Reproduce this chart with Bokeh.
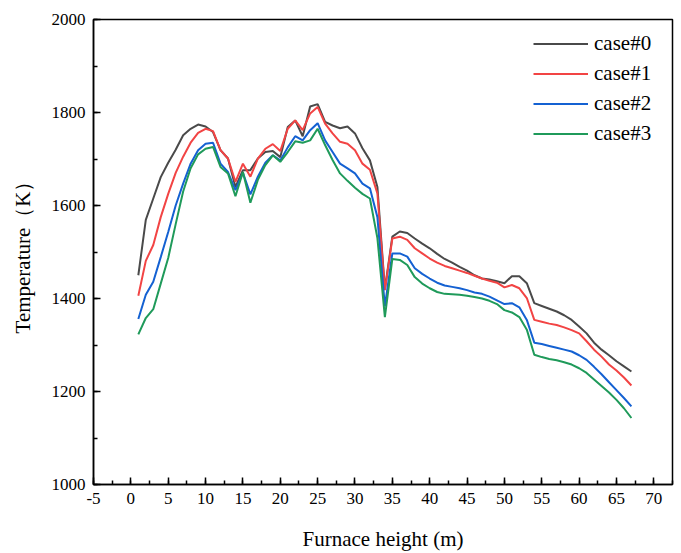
from bokeh.plotting import figure
from bokeh.models import Range1d, SingleIntervalTicker, Legend, LegendItem, PrintfTickFormatter
from bokeh.embed import file_html
from bokeh.resources import INLINE

height_m = list(range(1, 68))

case0 = [1450, 1569, 1615, 1661, 1692, 1720, 1751, 1765, 1774, 1770,
         1758, 1719, 1701, 1640, 1676, 1676, 1701, 1715, 1717, 1704,
         1769, 1783, 1749, 1813, 1818, 1780, 1772, 1766, 1770, 1755,
         1723, 1697, 1640, 1420, 1533, 1544, 1541, 1529, 1518, 1508,
         1496, 1485, 1477, 1468, 1460, 1450, 1443, 1441, 1437, 1433,
         1448, 1448, 1433, 1390, 1384, 1378, 1372, 1364, 1354, 1340,
         1325, 1305, 1290, 1278, 1265, 1254, 1243]
case1 = [1406, 1481, 1515, 1575, 1625, 1670, 1705, 1735, 1756, 1765,
         1760, 1719, 1701, 1651, 1690, 1662, 1701, 1722, 1732, 1717,
         1765, 1783, 1762, 1798, 1812, 1776, 1755, 1737, 1733, 1719,
         1690, 1677, 1626, 1418, 1529, 1533, 1526, 1508, 1497, 1486,
         1477, 1470, 1465, 1460, 1455, 1449, 1443, 1438, 1434, 1424,
         1429, 1422, 1401, 1354, 1350, 1346, 1343, 1338, 1332, 1325,
         1308, 1290, 1275, 1258, 1245, 1230, 1213]
case2 = [1356, 1408, 1436, 1489, 1543, 1600, 1647, 1690, 1719, 1733,
         1735, 1690, 1672, 1633, 1670, 1624, 1662, 1692, 1708, 1697,
         1725, 1749, 1740, 1762, 1777, 1740, 1715, 1690, 1680, 1669,
         1647, 1637, 1575, 1383, 1497, 1497, 1490, 1465, 1453, 1443,
         1434, 1428, 1425, 1422, 1418, 1413, 1410, 1404, 1396, 1388,
         1390, 1381, 1354, 1305, 1302, 1298, 1294, 1290, 1286, 1278,
         1268, 1253, 1237, 1220, 1203, 1186, 1168]
case3 = [1323, 1358, 1377, 1432, 1487, 1560, 1630, 1680, 1710, 1722,
         1726, 1683, 1669, 1620, 1672, 1606, 1655, 1687, 1708, 1694,
         1715, 1738, 1735, 1740, 1765, 1730, 1698, 1669, 1653, 1638,
         1625, 1615, 1530, 1360, 1485, 1483, 1472, 1446, 1432, 1422,
         1414, 1410, 1409, 1408, 1406, 1403, 1400, 1395, 1388, 1375,
         1370, 1360, 1333, 1279, 1274, 1270, 1267, 1263, 1258, 1250,
         1240, 1226, 1212, 1198, 1182, 1164, 1143]

series_names = ["case#0", "case#1", "case#2", "case#3"]
series_values = [case0, case1, case2, case3]
colors = ["#4a4a4a", "#f24444", "#1461d2", "#1f9a5a"]

FONT = "'Liberation Serif', 'Times New Roman', serif"

p = figure(width=681, height=553, output_backend="svg", toolbar_location=None,
           x_range=Range1d(-5, 72.5), y_range=Range1d(1000, 2000),
           min_border_left=93, min_border_right=9, min_border_top=19,
           min_border_bottom=68)
p.background_fill_color = "white"
p.border_fill_color = "white"
p.outline_line_color = "black"
p.outline_line_width = 1.5
p.xgrid.visible = False
p.ygrid.visible = False

items = []
for name, vals, col in zip(series_names, series_values, colors):
    r = p.line(height_m, vals, line_color=col, line_width=2)
    items.append(LegendItem(label=name, renderers=[r]))

xa = p.xaxis[0]
xa.ticker = SingleIntervalTicker(interval=5, num_minor_ticks=2)
ya = p.yaxis[0]
ya.ticker = SingleIntervalTicker(interval=200, num_minor_ticks=2)

for ax in (xa, ya):
    ax.formatter = PrintfTickFormatter(format="%d")
    ax.axis_line_color = "black"
    ax.axis_line_width = 1.5
    ax.major_tick_in = 7
    ax.major_tick_out = 0
    ax.minor_tick_in = 4
    ax.minor_tick_out = 0
    ax.major_tick_line_color = "black"
    ax.minor_tick_line_color = "black"
    ax.major_tick_line_width = 1.5
    ax.minor_tick_line_width = 1.5
    ax.major_label_text_font = FONT
    ax.major_label_text_font_size = "17px"
    ax.major_label_text_color = "black"
    ax.axis_label_text_font = FONT
    ax.axis_label_text_font_size = "21px"
    ax.axis_label_text_font_style = "normal"
    ax.axis_label_text_color = "black"
    ax.major_label_standoff = 8

xa.axis_label = "Furnace height (m)"
xa.axis_label_standoff = 20
ya.axis_label = "Temperature（K）"
ya.axis_label_standoff = 14

legend = Legend(items=items, location=(440, 338))
legend.border_line_color = None
legend.background_fill_alpha = 0
legend.padding = 0
legend.margin = 0
legend.spacing = 5
legend.glyph_width = 55
legend.glyph_height = 25
legend.label_height = 25
legend.label_standoff = 6
legend.label_text_font = FONT
legend.label_text_font_size = "21px"
legend.label_text_color = "black"
p.add_layout(legend, "center")

open("out.html", "w").write(file_html(p, INLINE))
